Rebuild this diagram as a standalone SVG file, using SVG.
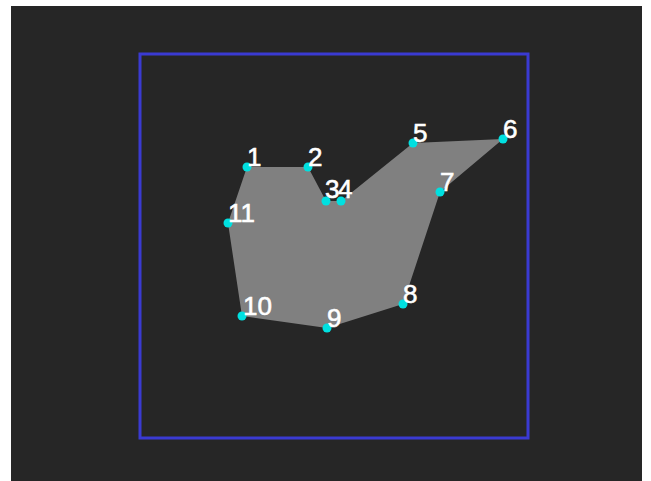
<svg xmlns="http://www.w3.org/2000/svg" width="651" height="481" viewBox="0 0 651 481">
<style>
.pt{fill:#00e0e0}
.lb{fill:#ffffff;stroke:#ffffff;stroke-width:0.6;font-family:"Liberation Sans",Arial,sans-serif;font-size:26px}
</style>
<rect x="0" y="0" width="651" height="481" fill="#ffffff"/>
<rect x="11" y="6" width="631" height="475" fill="#262626"/>
<rect x="140" y="54" width="388" height="384" fill="none" stroke="#3a3ad2" stroke-width="3"/>
<g id="polygon">
<polygon points="247,167 308,167 326,201 341,201 413,143 503,139 440,192 403,304 327,328 242,316 228,223" fill="#808080"/>
</g>
<g id="p1"><circle class="pt" cx="247" cy="167" r="4.5"/><text class="lb" x="247" y="166">1</text></g>
<g id="p2"><circle class="pt" cx="308" cy="167" r="4.5"/><text class="lb" x="308" y="166">2</text></g>
<g id="p3"><circle class="pt" cx="326" cy="201" r="4.5"/><text class="lb" x="325" y="198">3</text></g>
<g id="p4"><circle class="pt" cx="341" cy="201" r="4.5"/><text class="lb" x="338" y="198">4</text></g>
<g id="p5"><circle class="pt" cx="413" cy="143" r="4.5"/><text class="lb" x="413" y="142">5</text></g>
<g id="p6"><circle class="pt" cx="503" cy="139" r="4.5"/><text class="lb" x="503" y="138">6</text></g>
<g id="p7"><circle class="pt" cx="440" cy="192" r="4.5"/><text class="lb" x="440" y="191">7</text></g>
<g id="p8"><circle class="pt" cx="403" cy="304" r="4.5"/><text class="lb" x="403" y="303">8</text></g>
<g id="p9"><circle class="pt" cx="327" cy="328" r="4.5"/><text class="lb" x="327" y="327">9</text></g>
<g id="p10"><circle class="pt" cx="242" cy="316" r="4.5"/><text class="lb" x="243" y="315">10</text></g>
<g id="p11"><circle class="pt" cx="228" cy="223" r="4.5"/><text class="lb" x="228" y="222">11</text></g>
</svg>
